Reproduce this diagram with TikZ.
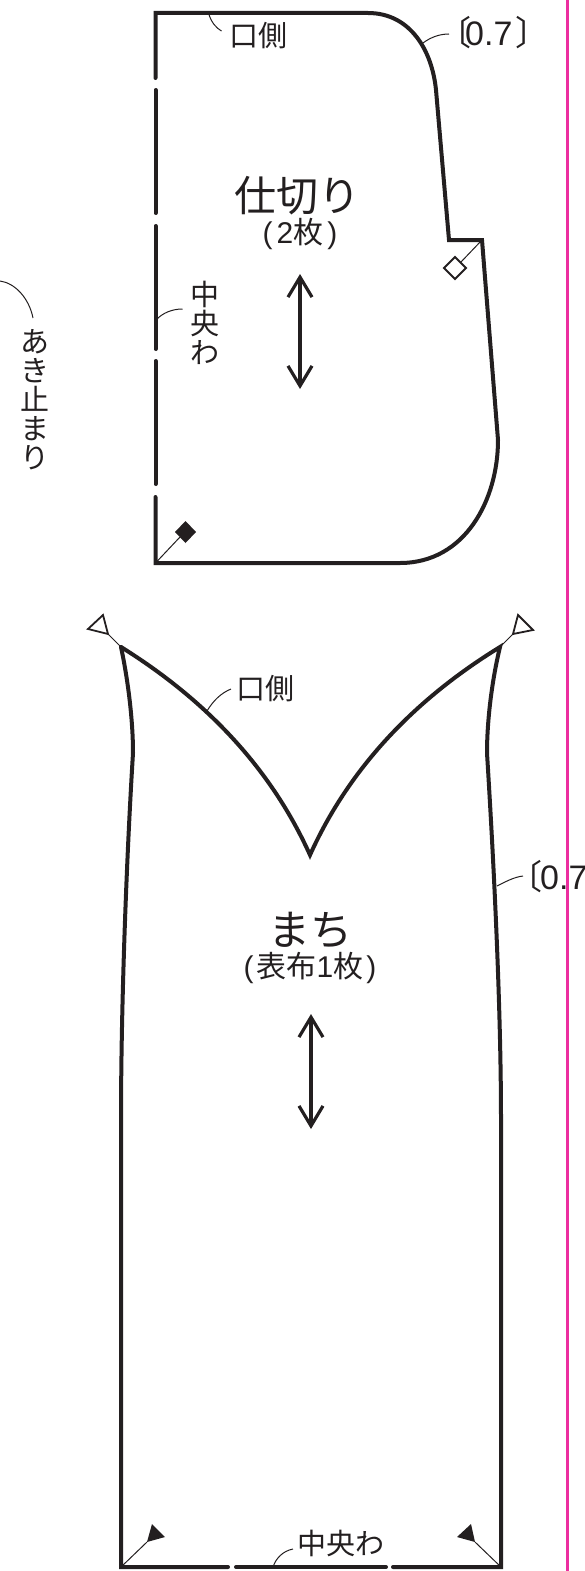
\documentclass[tikz,border=0pt]{standalone}
\usepackage{fontspec}
\usepackage{xcolor}
\usetikzlibrary{arrows.meta, positioning}
\newfontfamily\cjk{Noto Sans CJK JP}
\newfontfamily\lat{Liberation Sans}
\newcommand{\nm}[1]{{\lat #1}}
\definecolor{pagepink}{HTML}{EC2FA0}
\definecolor{inkblack}{HTML}{231F20}
\begin{document}
\begin{tikzpicture}[x=1pt, y=-1pt,
    cutline/.style = {draw=inkblack, line width=4pt, line cap=round, line join=miter},
    leader/.style = {draw=inkblack, line width=1pt},
    grain/.style = {draw=inkblack, line width=3.2pt, {Straight Barb[length=20pt,width=24pt]}-{Straight Barb[length=20pt,width=24pt]}},
    title/.style = {inner sep=0pt, text=inkblack, font=\cjk\fontsize{42}{44}\selectfont},
    sub/.style = {inner sep=0pt, text=inkblack, font=\cjk\fontsize{30}{32}\selectfont},
    lab/.style = {inner sep=0pt, text=inkblack, font=\cjk\fontsize{29}{29}\selectfont},
    size/.style = {inner sep=0pt, text=inkblack, font=\cjk\fontsize{34}{34}\selectfont},
    vlab/.style = {lab, align=center},
    notch/.style = {draw=inkblack, line width=1.8pt, line join=miter}]
    \useasboundingbox (0,0) rectangle (584,1571);
    \draw[pagepink, line width=2.6pt] (567.5,0) -- (567.5,1571);

    \draw[cutline] (155.5,78) -- (155.5,13) -- (368,13)
        .. controls (410,13) and (432,50) .. (436,90)
        -- (449,240) -- (482,240) -- (498,440)
        .. controls (498,500) and (465,563) .. (400,563)
        -- (155.5,563) -- (155.5,497);
    \draw[cutline] (155.5,90) -- (155.5,213);
    \draw[cutline] (155.5,226) -- (155.5,349);
    \draw[cutline] (155.5,361) -- (155.5,484);

    \draw[cutline] (121,647) .. controls (128,680) and (133,720) .. (133,753)
        .. controls (127,850) and (121,1000) .. (121,1120)
        -- (121,1567) -- (228,1567);
    \draw[cutline] (236,1567) -- (386,1567);
    \draw[cutline] (393,1567) -- (501,1567) -- (501,1120)
        .. controls (501,1000) and (493,850) .. (487,753)
        .. controls (487,720) and (492,680) .. (500,647)
        .. controls (430,690) and (355,755) .. (310,855)
        .. controls (265,755) and (190,690) .. (121,647);

    \node[lab] (kuchi1) at (258.5,36) {口側};
    \node[size, anchor=west] (nui1) at (437,33) {〔\kern-6pt\nm{0.7}\kern3pt〕};
    \node[title] (shikiri) at (297,196) {仕切り};
    \node[sub] (shikiri2) at (300,234) {\nm{(}\kern4pt\nm{2}枚\kern4pt\nm{)}};
    \node[vlab] (wa1) at (204.5,323) {中\\央\\わ};
    \node[vlab] (aki) at (34.5,400) {あ\\き\\止\\ま\\り};
    \node[lab] (kuchi2) at (265.5,689) {口側};
    \node[size, anchor=west] (nui2) at (508,877) {〔\kern-2pt\nm{0.7}};
    \node[title] (machi) at (310,930) {まち};
    \node[sub] (machi2) at (310,968) {\nm{(}\kern3pt表布\nm{1}枚\kern3pt\nm{)}};
    \node[lab] (wa2) at (341,1543) {中央わ};

    \coordinate (g1a) at (300,274);
    \coordinate (g1b) at (300,389);
    \coordinate (g2a) at (311,1014);
    \coordinate (g2b) at (311,1129);
    \draw[grain] (g1a) -- (g1b);
    \draw[grain] (g2a) -- (g2b);

    \draw[leader] (208.5,13) .. controls (211,22) and (216,28) .. (221.5,31);
    \draw[leader] (423,43) .. controls (431,37) and (440,34) .. (449,34);
    \draw[leader] (157,319) .. controls (163,313) and (172,309) .. (182.5,309);
    \draw[leader] (33,318) .. controls (29,298) and (15,283) .. (0,281);
    \draw[leader] (207,711) .. controls (213,701) and (221,693) .. (231,689);
    \draw[leader] (497,886) .. controls (505,882) and (514,877) .. (523,876);
    \draw[leader] (273,1567) .. controls (276,1558) and (283,1551) .. (293,1549);

    \draw[leader] (482,240) -- (461,262);
    \draw[notch] (455,257) -- (466,268) -- (455,279) -- (444,268) -- cycle;
    \draw[leader] (155.5,563) -- (180,537);
    \fill[inkblack] (185.5,521) -- (196,532) -- (185.5,543) -- (175,532) -- cycle;

    \draw[leader] (121,647) -- (108,634);
    \draw[notch] (103,615) -- (88,629) -- (108,634) -- cycle;
    \draw[leader] (500,647) -- (513,634);
    \draw[notch] (518,615) -- (533,630) -- (513,634) -- cycle;
    \draw[leader] (121,1567) -- (147,1542);
    \fill[inkblack] (152,1524) -- (165,1537) -- (147,1542) -- cycle;
    \draw[leader] (501,1567) -- (475,1542);
    \fill[inkblack] (471,1524) -- (457,1537) -- (475,1542) -- cycle;
\end{tikzpicture}
\end{document}
